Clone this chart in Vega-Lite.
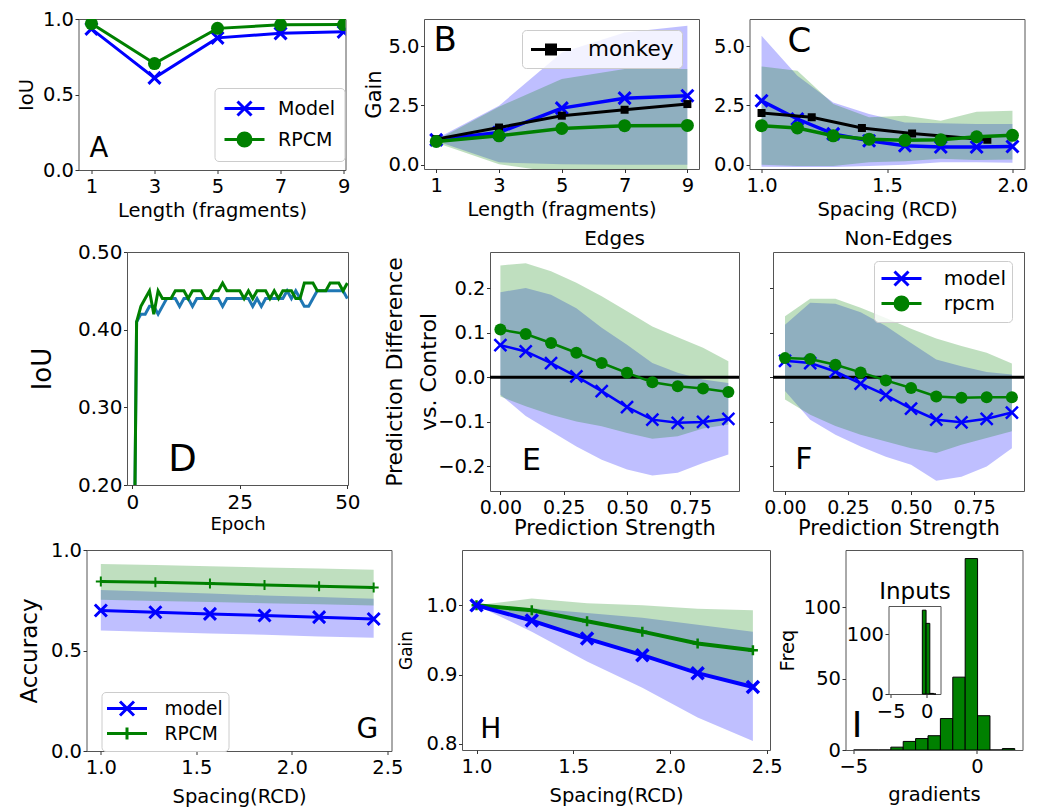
{
"$schema": "https://vega.github.io/schema/vega-lite/v6.json",
"background": "white",
"padding": {"left": 1, "top": 8, "right": 2, "bottom": 2},
"config": {
  "font": "DejaVu Sans",
  "view": {"stroke": "#555555", "strokeWidth": 1},
  "axis": {"grid": false, "domain": false, "ticks": true, "tickColor": "#333333", "tickWidth": 1, "labelFont": "DejaVu Sans", "labelFontSize": 19.5, "labelColor": "#000000", "labelFlush": false, "labelOverlap": false, "labelBound": false, "titleFont": "DejaVu Sans", "titleFontSize": 19.5, "titleFontWeight": "normal", "titleColor": "#000000", "titlePadding": 4},
  "axisX": {"tickSize": 3.5, "labelPadding": 4},
  "axisY": {"tickSize": 3.5, "labelPadding": 1.5},
  "legend": {"labelFont": "DejaVu Sans", "labelFontSize": 19, "labelColor": "#000000", "fillColor": "rgba(255,255,255,0.8)", "strokeColor": "#cccccc", "cornerRadius": 4, "padding": 8, "symbolSize": 400, "symbolStrokeWidth": 3},
  "title": {"font": "DejaVu Sans", "fontSize": 20, "fontWeight": "normal", "color": "#000000", "offset": 3, "anchor": "middle"}
},
"datasets": {
  "a": [{"x":1,"s":"Model","y":0.935},{"x":3,"s":"Model","y":0.61},{"x":5,"s":"Model","y":0.875},{"x":7,"s":"Model","y":0.905},{"x":9,"s":"Model","y":0.915},
        {"x":1,"s":"RPCM","y":0.97},{"x":3,"s":"RPCM","y":0.705},{"x":5,"s":"RPCM","y":0.938},{"x":7,"s":"RPCM","y":0.962},{"x":9,"s":"RPCM","y":0.963}],
  "b": [{"x":1,"s":"Model","y":1.05,"lo":1.0,"hi":1.1},{"x":3,"s":"Model","y":1.36,"lo":0.1,"hi":2.49},{"x":5,"s":"Model","y":2.39,"lo":0.02,"hi":4.74},{"x":7,"s":"Model","y":2.81,"lo":0.0,"hi":5.58},{"x":9,"s":"Model","y":2.91,"lo":0.0,"hi":5.86},
        {"x":1,"s":"RPCM","y":0.98,"lo":0.93,"hi":1.03},{"x":3,"s":"RPCM","y":1.22,"lo":0.02,"hi":2.45},{"x":5,"s":"RPCM","y":1.53,"lo":-0.35,"hi":3.62},{"x":7,"s":"RPCM","y":1.65,"lo":-0.4,"hi":4.04},{"x":9,"s":"RPCM","y":1.66,"lo":-0.4,"hi":4.04},
        {"x":1,"s":"monkey","y":1.08},{"x":3,"s":"monkey","y":1.57},{"x":5,"s":"monkey","y":2.07},{"x":7,"s":"monkey","y":2.32},{"x":9,"s":"monkey","y":2.56}],
  "c": [{"x":1.0,"s":"Model","y":2.7,"lo":-0.08,"hi":5.44},{"x":1.1429,"s":"Model","y":1.93,"lo":-0.1,"hi":3.75},{"x":1.2857,"s":"Model","y":1.3,"lo":-0.1,"hi":2.63},{"x":1.4286,"s":"Model","y":1.01,"lo":-0.05,"hi":2.14},{"x":1.5714,"s":"Model","y":0.8,"lo":0.0,"hi":1.78},{"x":1.7143,"s":"Model","y":0.75,"lo":0.1,"hi":1.75},{"x":1.8571,"s":"Model","y":0.75,"lo":0.1,"hi":1.72},{"x":2.0,"s":"Model","y":0.77,"lo":0.08,"hi":1.72},
        {"x":1.0,"s":"RPCM","y":1.65,"lo":0.0,"hi":4.15},{"x":1.1429,"s":"RPCM","y":1.55,"lo":-0.05,"hi":3.97},{"x":1.2857,"s":"RPCM","y":1.22,"lo":-0.05,"hi":2.56},{"x":1.4286,"s":"RPCM","y":1.08,"lo":0.1,"hi":2.0},{"x":1.5714,"s":"RPCM","y":1.03,"lo":0.15,"hi":2.07},{"x":1.7143,"s":"RPCM","y":1.05,"lo":0.25,"hi":1.86},{"x":1.8571,"s":"RPCM","y":1.18,"lo":0.2,"hi":2.24},{"x":2.0,"s":"RPCM","y":1.24,"lo":0.22,"hi":2.28},
        {"x":1.0,"s":"monkey","y":2.18},{"x":1.2,"s":"monkey","y":2.0},{"x":1.4,"s":"monkey","y":1.55},{"x":1.6,"s":"monkey","y":1.32},{"x":1.9,"s":"monkey","y":1.05}],
  "d": [{"e":0,"s":"m","v":-0.15},{"e":1,"s":"m","v":0.41},{"e":2,"s":"m","v":0.42},{"e":3,"s":"m","v":0.42},{"e":4,"s":"m","v":0.43},{"e":5,"s":"m","v":0.43},{"e":6,"s":"m","v":0.42},{"e":7,"s":"m","v":0.43},{"e":8,"s":"m","v":0.44},{"e":9,"s":"m","v":0.44},
        {"e":10,"s":"m","v":0.44},{"e":11,"s":"m","v":0.43},{"e":12,"s":"m","v":0.44},{"e":13,"s":"m","v":0.44},{"e":14,"s":"m","v":0.43},{"e":15,"s":"m","v":0.44},{"e":16,"s":"m","v":0.44},{"e":17,"s":"m","v":0.44},{"e":18,"s":"m","v":0.44},{"e":19,"s":"m","v":0.44},
        {"e":20,"s":"m","v":0.44},{"e":21,"s":"m","v":0.43},{"e":22,"s":"m","v":0.44},{"e":23,"s":"m","v":0.44},{"e":24,"s":"m","v":0.44},{"e":25,"s":"m","v":0.44},{"e":26,"s":"m","v":0.44},{"e":27,"s":"m","v":0.44},{"e":28,"s":"m","v":0.43},{"e":29,"s":"m","v":0.44},
        {"e":30,"s":"m","v":0.43},{"e":31,"s":"m","v":0.44},{"e":32,"s":"m","v":0.44},{"e":33,"s":"m","v":0.44},{"e":34,"s":"m","v":0.44},{"e":35,"s":"m","v":0.44},{"e":36,"s":"m","v":0.45},{"e":37,"s":"m","v":0.44},{"e":38,"s":"m","v":0.45},{"e":39,"s":"m","v":0.44},
        {"e":40,"s":"m","v":0.43},{"e":41,"s":"m","v":0.43},{"e":42,"s":"m","v":0.44},{"e":43,"s":"m","v":0.45},{"e":44,"s":"m","v":0.45},{"e":45,"s":"m","v":0.45},{"e":46,"s":"m","v":0.45},{"e":47,"s":"m","v":0.45},{"e":48,"s":"m","v":0.45},{"e":49,"s":"m","v":0.45},{"e":50,"s":"m","v":0.44},
        {"e":0,"s":"r","v":-0.15},{"e":1,"s":"r","v":0.41},{"e":2,"s":"r","v":0.43},{"e":3,"s":"r","v":0.44},{"e":4,"s":"r","v":0.45},{"e":5,"s":"r","v":0.42},{"e":6,"s":"r","v":0.45},{"e":7,"s":"r","v":0.44},{"e":8,"s":"r","v":0.44},{"e":9,"s":"r","v":0.44},
        {"e":10,"s":"r","v":0.45},{"e":11,"s":"r","v":0.45},{"e":12,"s":"r","v":0.45},{"e":13,"s":"r","v":0.44},{"e":14,"s":"r","v":0.45},{"e":15,"s":"r","v":0.45},{"e":16,"s":"r","v":0.45},{"e":17,"s":"r","v":0.44},{"e":18,"s":"r","v":0.44},{"e":19,"s":"r","v":0.45},
        {"e":20,"s":"r","v":0.45},{"e":21,"s":"r","v":0.46},{"e":22,"s":"r","v":0.45},{"e":23,"s":"r","v":0.45},{"e":24,"s":"r","v":0.45},{"e":25,"s":"r","v":0.45},{"e":26,"s":"r","v":0.44},{"e":27,"s":"r","v":0.45},{"e":28,"s":"r","v":0.44},{"e":29,"s":"r","v":0.45},
        {"e":30,"s":"r","v":0.45},{"e":31,"s":"r","v":0.45},{"e":32,"s":"r","v":0.44},{"e":33,"s":"r","v":0.45},{"e":34,"s":"r","v":0.44},{"e":35,"s":"r","v":0.45},{"e":36,"s":"r","v":0.45},{"e":37,"s":"r","v":0.45},{"e":38,"s":"r","v":0.44},{"e":39,"s":"r","v":0.44},
        {"e":40,"s":"r","v":0.46},{"e":41,"s":"r","v":0.46},{"e":42,"s":"r","v":0.46},{"e":43,"s":"r","v":0.45},{"e":44,"s":"r","v":0.45},{"e":45,"s":"r","v":0.45},{"e":46,"s":"r","v":0.46},{"e":47,"s":"r","v":0.46},{"e":48,"s":"r","v":0.46},{"e":49,"s":"r","v":0.45},{"e":50,"s":"r","v":0.46}],
  "e": [{"x":0.0,"s":"model","y":0.072,"lo":-0.039,"hi":0.191},{"x":0.1,"s":"model","y":0.058,"lo":-0.087,"hi":0.2},{"x":0.2,"s":"model","y":0.032,"lo":-0.121,"hi":0.185},{"x":0.3,"s":"model","y":0.002,"lo":-0.155,"hi":0.155},{"x":0.4,"s":"model","y":-0.031,"lo":-0.185,"hi":0.111},{"x":0.5,"s":"model","y":-0.067,"lo":-0.207,"hi":0.073},{"x":0.6,"s":"model","y":-0.095,"lo":-0.22,"hi":0.032},{"x":0.7,"s":"model","y":-0.102,"lo":-0.214,"hi":0.01},{"x":0.8,"s":"model","y":-0.1,"lo":-0.192,"hi":-0.005},{"x":0.9,"s":"model","y":-0.093,"lo":-0.173,"hi":-0.013},
        {"x":0.0,"s":"rpcm","y":0.107,"lo":-0.043,"hi":0.251},{"x":0.1,"s":"rpcm","y":0.097,"lo":-0.065,"hi":0.256},{"x":0.2,"s":"rpcm","y":0.077,"lo":-0.084,"hi":0.238},{"x":0.3,"s":"rpcm","y":0.055,"lo":-0.099,"hi":0.212},{"x":0.4,"s":"rpcm","y":0.032,"lo":-0.11,"hi":0.182},{"x":0.5,"s":"rpcm","y":0.01,"lo":-0.125,"hi":0.148},{"x":0.6,"s":"rpcm","y":-0.011,"lo":-0.138,"hi":0.114},{"x":0.7,"s":"rpcm","y":-0.02,"lo":-0.132,"hi":0.09},{"x":0.8,"s":"rpcm","y":-0.025,"lo":-0.115,"hi":0.066},{"x":0.9,"s":"rpcm","y":-0.033,"lo":-0.106,"hi":0.036}],
  "f": [{"x":0.0,"s":"model","y":0.037,"lo":-0.031,"hi":0.118},{"x":0.1,"s":"model","y":0.032,"lo":-0.095,"hi":0.167},{"x":0.2,"s":"model","y":0.013,"lo":-0.129,"hi":0.165},{"x":0.3,"s":"model","y":-0.014,"lo":-0.155,"hi":0.146},{"x":0.4,"s":"model","y":-0.04,"lo":-0.178,"hi":0.115},{"x":0.5,"s":"model","y":-0.07,"lo":-0.196,"hi":0.077},{"x":0.6,"s":"model","y":-0.095,"lo":-0.232,"hi":0.04},{"x":0.7,"s":"model","y":-0.101,"lo":-0.223,"hi":0.025},{"x":0.8,"s":"model","y":-0.093,"lo":-0.2,"hi":0.012},{"x":0.9,"s":"model","y":-0.079,"lo":-0.159,"hi":0.006},
        {"x":0.0,"s":"rpcm","y":0.043,"lo":-0.05,"hi":0.137},{"x":0.1,"s":"rpcm","y":0.041,"lo":-0.084,"hi":0.176},{"x":0.2,"s":"rpcm","y":0.028,"lo":-0.109,"hi":0.176},{"x":0.3,"s":"rpcm","y":0.011,"lo":-0.129,"hi":0.156},{"x":0.4,"s":"rpcm","y":-0.007,"lo":-0.144,"hi":0.133},{"x":0.5,"s":"rpcm","y":-0.024,"lo":-0.159,"hi":0.109},{"x":0.6,"s":"rpcm","y":-0.043,"lo":-0.17,"hi":0.087},{"x":0.7,"s":"rpcm","y":-0.046,"lo":-0.151,"hi":0.07},{"x":0.8,"s":"rpcm","y":-0.045,"lo":-0.136,"hi":0.055},{"x":0.9,"s":"rpcm","y":-0.045,"lo":-0.121,"hi":0.031}],
  "g": [{"x":1.0,"s":"model","y":0.699,"lo":0.6,"hi":0.801},{"x":1.2857,"s":"model","y":0.69,"lo":0.592,"hi":0.792},{"x":1.5714,"s":"model","y":0.682,"lo":0.585,"hi":0.783},{"x":1.8571,"s":"model","y":0.674,"lo":0.578,"hi":0.774},{"x":2.1429,"s":"model","y":0.666,"lo":0.57,"hi":0.766},{"x":2.4286,"s":"model","y":0.657,"lo":0.563,"hi":0.757},
        {"x":1.0,"s":"RPCM","y":0.843,"lo":0.752,"hi":0.93},{"x":1.2857,"s":"RPCM","y":0.839,"lo":0.746,"hi":0.925},{"x":1.5714,"s":"RPCM","y":0.833,"lo":0.741,"hi":0.919},{"x":1.8571,"s":"RPCM","y":0.826,"lo":0.735,"hi":0.913},{"x":2.1429,"s":"RPCM","y":0.82,"lo":0.73,"hi":0.908},{"x":2.4286,"s":"RPCM","y":0.813,"lo":0.724,"hi":0.902}],
  "h": [{"x":1.0,"s":"model","y":1.0,"lo":1.0,"hi":1.0},{"x":1.2857,"s":"model","y":0.978,"lo":0.962,"hi":0.996},{"x":1.5714,"s":"model","y":0.952,"lo":0.919,"hi":0.989},{"x":1.8571,"s":"model","y":0.928,"lo":0.881,"hi":0.982},{"x":2.1429,"s":"model","y":0.902,"lo":0.838,"hi":0.972},{"x":2.4286,"s":"model","y":0.882,"lo":0.804,"hi":0.962},
        {"x":1.0,"s":"RPCM","y":1.0,"lo":1.0,"hi":1.0},{"x":1.2857,"s":"RPCM","y":0.993,"lo":0.975,"hi":1.01},{"x":1.5714,"s":"RPCM","y":0.977,"lo":0.953,"hi":1.003},{"x":1.8571,"s":"RPCM","y":0.962,"lo":0.929,"hi":1.0},{"x":2.1429,"s":"RPCM","y":0.945,"lo":0.905,"hi":0.995},{"x":2.4286,"s":"RPCM","y":0.935,"lo":0.881,"hi":0.993}],
  "i": [{"b0":-4.99,"b1":-4.488,"n":0},{"b0":-4.488,"b1":-3.986,"n":0},{"b0":-3.986,"b1":-3.484,"n":0},{"b0":-3.484,"b1":-2.982,"n":2},{"b0":-2.982,"b1":-2.48,"n":6},{"b0":-2.48,"b1":-1.978,"n":8},{"b0":-1.978,"b1":-1.476,"n":10},{"b0":-1.476,"b1":-0.974,"n":22},{"b0":-0.974,"b1":-0.472,"n":51},{"b0":-0.472,"b1":0.03,"n":134},{"b0":0.03,"b1":0.532,"n":24},{"b0":0.532,"b1":1.034,"n":0},{"b0":1.034,"b1":1.536,"n":1}],
  "ii": [{"b0":-0.6,"b1":-0.08,"n":140},{"b0":-0.08,"b1":0.44,"n":118},{"b0":0.44,"b1":0.96,"n":1},{"b0":0.96,"b1":1.3,"n":0}]
},
"columns": 1, "spacing": 8,
"resolve": {"scale": {"fill": "independent", "stroke": "independent", "shape": "independent"}, "legend": {"fill": "independent", "stroke": "independent", "shape": "independent"}},
"concat": [
 {"hconcat": [
  {"width": 2, "height": 1, "data": {"values": []}, "mark": {"type": "point", "opacity": 0}, "view": {"stroke": null}},
  {"width": 267, "height": 151, "data": {"name": "a"},
   "layer": [
    {"transform": [{"filter": {"field": "s", "equal": "Model"}}],
     "mark": {"type": "line", "color": "#0000ff", "strokeWidth": 3, "clip": true, "point": {"shape": "M-1,-1L1,1M-1,1L1,-1", "filled": false, "size": 144, "strokeWidth": 3, "color": "#0000ff", "opacity": 1}},
     "encoding": {
      "x": {"field": "x", "type": "quantitative", "scale": {"domain": [0.59, 9.06], "nice": false, "zero": false}, "axis": {"title": "Length (fragments)", "values": [1,3,5,7,9], "format": "d", "titlePadding": 5}},
      "y": {"field": "y", "type": "quantitative", "scale": {"domain": [0, 1], "nice": false, "zero": false}, "axis": {"title": "IoU", "values": [0, 0.5, 1], "format": ".1f", "titlePadding": 6}}}},
    {"transform": [{"filter": {"field": "s", "equal": "RPCM"}}],
     "mark": {"type": "line", "color": "#008000", "strokeWidth": 3, "clip": true, "point": {"shape": "circle", "filled": true, "size": 169, "color": "#008000", "opacity": 1}},
     "encoding": {"x": {"field": "x", "type": "quantitative"}, "y": {"field": "y", "type": "quantitative"}}},
    {"data": {"values": []},
     "mark": {"type": "point", "filled": true, "opacity": 1, "strokeWidth": 3, "size": 400},
     "encoding": {
      "fill": {"field": "s", "type": "nominal", "scale": {"domain": ["Model", "RPCM"], "range": ["#0000ff", "#008000"]}, "legend": {"title": null, "orient": "none", "legendX": 136, "legendY": 69, "padding": 9, "symbolOffset": 9.5, "labelOffset": 22, "rowPadding": 5, "labelFontSize": 19}},
      "stroke": {"field": "s", "type": "nominal", "scale": {"domain": ["Model", "RPCM"], "range": ["#0000ff", "#008000"]}, "legend": {"title": null, "orient": "none", "legendX": 136, "legendY": 69, "padding": 9, "symbolOffset": 9.5, "labelOffset": 22, "rowPadding": 5, "labelFontSize": 19}},
      "shape": {"field": "s", "type": "nominal", "scale": {"domain": ["Model", "RPCM"], "range": ["M-2,0L2,0M-0.7,-0.7L0.7,0.7M-0.7,0.7L0.7,-0.7", "M-2,0L2,0M0.65,0A0.65,0.65,0,1,1,-0.65,0A0.65,0.65,0,1,1,0.65,0Z"]}, "legend": {"title": null, "orient": "none", "legendX": 136, "legendY": 69, "padding": 9, "symbolOffset": 9.5, "labelOffset": 22, "rowPadding": 5, "labelFontSize": 19}}}},
    {"data": {"values": [{}]},
     "mark": {"type": "text", "font": "DejaVu Sans", "fontSize": 27.5, "color": "#000000", "align": "center", "baseline": "middle"},
     "encoding": {"x": {"datum": 1.24, "type": "quantitative"}, "y": {"datum": 0.141, "type": "quantitative"}, "text": {"value": "A"}}}
   ]},
  {"width": 275, "height": 150, "data": {"name": "b"},
   "layer": [
    {"transform": [{"filter": {"field": "s", "equal": "Model"}}],
     "mark": {"type": "area", "color": "#0000ff", "opacity": 0.25, "clip": true},
     "encoding": {
      "x": {"field": "x", "type": "quantitative", "scale": {"domain": [0.61, 9.37], "nice": false, "zero": false}, "axis": {"title": "Length (fragments)", "values": [1,3,5,7,9], "format": "d", "titlePadding": 5}},
      "y": {"field": "lo", "type": "quantitative", "scale": {"domain": [-0.18, 6.15], "nice": false, "zero": false}, "axis": {"title": "Gain", "values": [0, 2.5, 5], "format": ".1f", "titleFontSize": 21, "titlePadding": 3}},
      "y2": {"field": "hi"}}},
    {"transform": [{"filter": {"field": "s", "equal": "RPCM"}}],
     "mark": {"type": "area", "color": "#008000", "opacity": 0.25, "clip": true},
     "encoding": {"x": {"field": "x", "type": "quantitative"}, "y": {"field": "lo", "type": "quantitative"}, "y2": {"field": "hi"}}},
    {"transform": [{"filter": {"field": "s", "equal": "Model"}}],
     "mark": {"type": "line", "color": "#0000ff", "strokeWidth": 3.5, "clip": true, "point": {"shape": "M-1,-1L1,1M-1,1L1,-1", "filled": false, "size": 144, "strokeWidth": 3, "color": "#0000ff", "opacity": 1}},
     "encoding": {"x": {"field": "x", "type": "quantitative"}, "y": {"field": "y", "type": "quantitative"}}},
    {"transform": [{"filter": {"field": "s", "equal": "monkey"}}],
     "mark": {"type": "line", "color": "#000000", "strokeWidth": 3, "clip": true, "point": {"shape": "square", "filled": true, "size": 64, "color": "#000000", "opacity": 1}},
     "encoding": {"x": {"field": "x", "type": "quantitative"}, "y": {"field": "y", "type": "quantitative"}}},
    {"transform": [{"filter": {"field": "s", "equal": "RPCM"}}],
     "mark": {"type": "line", "color": "#008000", "strokeWidth": 3.5, "clip": true, "point": {"shape": "circle", "filled": true, "size": 169, "color": "#008000", "opacity": 1}},
     "encoding": {"x": {"field": "x", "type": "quantitative"}, "y": {"field": "y", "type": "quantitative"}}},
    {"data": {"values": []},
     "mark": {"type": "point", "filled": true, "opacity": 1, "strokeWidth": 3, "size": 400},
     "encoding": {
      "fill": {"field": "s", "type": "nominal", "scale": {"domain": ["monkey"], "range": ["#000000"]}, "legend": {"title": null, "orient": "none", "legendX": 98, "legendY": 11, "padding": 8, "symbolOffset": 9.5, "labelOffset": 25.5, "labelFontSize": 21.5}},
      "stroke": {"field": "s", "type": "nominal", "scale": {"domain": ["monkey"], "range": ["#000000"]}, "legend": {"title": null, "orient": "none", "legendX": 98, "legendY": 11, "padding": 8, "symbolOffset": 9.5, "labelOffset": 25.5, "labelFontSize": 21.5}},
      "shape": {"field": "s", "type": "nominal", "scale": {"domain": ["monkey"], "range": ["M-2,0L2,0M-0.45,-0.45L0.45,-0.45L0.45,0.45L-0.45,0.45Z"]}, "legend": {"title": null, "orient": "none", "legendX": 98, "legendY": 11, "padding": 8, "symbolOffset": 9.5, "labelOffset": 25.5, "labelFontSize": 21.5}}}},
    {"data": {"values": [{}]},
     "mark": {"type": "text", "font": "DejaVu Sans", "fontSize": 34, "color": "#000000", "align": "center", "baseline": "middle"},
     "encoding": {"x": {"datum": 1.28, "type": "quantitative"}, "y": {"datum": 5.21, "type": "quantitative"}, "text": {"value": "B"}}}
   ]},
  {"width": 275, "height": 150, "data": {"name": "c"},
   "layer": [
    {"transform": [{"filter": {"field": "s", "equal": "Model"}}],
     "mark": {"type": "area", "color": "#0000ff", "opacity": 0.25, "clip": true},
     "encoding": {
      "x": {"field": "x", "type": "quantitative", "scale": {"domain": [0.952, 2.048], "nice": false, "zero": false}, "axis": {"title": "Spacing (RCD)", "values": [1, 1.5, 2], "format": ".1f", "titlePadding": 5}},
      "y": {"field": "lo", "type": "quantitative", "scale": {"domain": [-0.18, 6.15], "nice": false, "zero": false}, "axis": {"title": null, "values": [0, 2.5, 5], "format": ".1f"}},
      "y2": {"field": "hi"}}},
    {"transform": [{"filter": {"field": "s", "equal": "RPCM"}}],
     "mark": {"type": "area", "color": "#008000", "opacity": 0.25, "clip": true},
     "encoding": {"x": {"field": "x", "type": "quantitative"}, "y": {"field": "lo", "type": "quantitative"}, "y2": {"field": "hi"}}},
    {"transform": [{"filter": {"field": "s", "equal": "Model"}}],
     "mark": {"type": "line", "color": "#0000ff", "strokeWidth": 3.5, "clip": true, "point": {"shape": "M-1,-1L1,1M-1,1L1,-1", "filled": false, "size": 144, "strokeWidth": 3, "color": "#0000ff", "opacity": 1}},
     "encoding": {"x": {"field": "x", "type": "quantitative"}, "y": {"field": "y", "type": "quantitative"}}},
    {"transform": [{"filter": {"field": "s", "equal": "monkey"}}],
     "mark": {"type": "line", "color": "#000000", "strokeWidth": 3, "clip": true, "point": {"shape": "square", "filled": true, "size": 64, "color": "#000000", "opacity": 1}},
     "encoding": {"x": {"field": "x", "type": "quantitative"}, "y": {"field": "y", "type": "quantitative"}}},
    {"transform": [{"filter": {"field": "s", "equal": "RPCM"}}],
     "mark": {"type": "line", "color": "#008000", "strokeWidth": 3.5, "clip": true, "point": {"shape": "circle", "filled": true, "size": 169, "color": "#008000", "opacity": 1}},
     "encoding": {"x": {"field": "x", "type": "quantitative"}, "y": {"field": "y", "type": "quantitative"}}},
    {"data": {"values": [{}]},
     "mark": {"type": "text", "font": "DejaVu Sans", "fontSize": 34, "color": "#000000", "align": "center", "baseline": "middle"},
     "encoding": {"x": {"datum": 1.151, "type": "quantitative"}, "y": {"datum": 5.19, "type": "quantitative"}, "text": {"value": "C"}}}
   ]}
 ], "spacing": 12.5,
 "resolve": {"scale": {"fill": "independent", "stroke": "independent", "shape": "independent"}, "legend": {"fill": "independent", "stroke": "independent", "shape": "independent"}}},
 {"columns": 1, "spacing": 0,
  "resolve": {"scale": {"fill": "independent", "stroke": "independent", "shape": "independent"}, "legend": {"fill": "independent", "stroke": "independent", "shape": "independent"}},
  "concat": [
  {"hconcat": [
   {"width": 5, "height": 1, "data": {"values": []}, "mark": {"type": "point", "opacity": 0}, "view": {"stroke": null}},
   {"width": 221, "height": 233, "data": {"name": "d"},
    "layer": [
     {"transform": [{"filter": {"field": "s", "equal": "m"}}],
      "mark": {"type": "line", "color": "#1f77b4", "strokeWidth": 3, "clip": true},
      "encoding": {
       "x": {"field": "e", "type": "quantitative", "scale": {"domain": [-1.23, 50.15], "nice": false, "zero": false}, "axis": {"title": "Epoch", "values": [0, 25, 50], "format": "d", "labelFontSize": 20, "titleFontSize": 18, "titlePadding": 3}},
       "y": {"field": "v", "type": "quantitative", "scale": {"domain": [0.2, 0.5], "nice": false, "zero": false}, "axis": {"title": "IoU", "values": [0.2, 0.25, 0.3, 0.35, 0.4, 0.45, 0.5], "format": ".2f", "labelFontSize": 20, "titleFontSize": 26, "titlePadding": 22}}}},
     {"transform": [{"filter": {"field": "s", "equal": "r"}}],
      "mark": {"type": "line", "color": "#008000", "strokeWidth": 3, "clip": true},
      "encoding": {"x": {"field": "e", "type": "quantitative"}, "y": {"field": "v", "type": "quantitative"}}},
     {"data": {"values": [{}]},
      "mark": {"type": "text", "font": "DejaVu Sans", "fontSize": 37, "color": "#000000", "align": "center", "baseline": "middle"},
      "encoding": {"x": {"datum": 11.67, "type": "quantitative"}, "y": {"datum": 0.232, "type": "quantitative"}, "text": {"value": "D"}}}
    ]},
   {"width": 249, "height": 239, "title": {"text": "Edges"}, "data": {"name": "e"},
    "layer": [
     {"transform": [{"filter": {"field": "s", "equal": "model"}}],
      "mark": {"type": "area", "color": "#0000ff", "opacity": 0.25, "clip": true},
      "encoding": {
       "x": {"field": "x", "type": "quantitative", "scale": {"domain": [-0.041, 0.942], "nice": false, "zero": false}, "axis": {"title": "Prediction Strength", "values": [0, 0.25, 0.5, 0.75], "format": ".2f", "labelFontSize": 19, "titleFontSize": 21, "titlePadding": 0}},
       "y": {"field": "lo", "type": "quantitative", "scale": {"domain": [-0.255, 0.281], "nice": false, "zero": false}, "axis": {"title": ["Prediction Difference", "vs. Control"], "values": [-0.2, -0.1, 0, 0.1, 0.2], "format": ".1f", "titleFontSize": 22, "titleLineHeight": 34, "titlePadding": -3}},
       "y2": {"field": "hi"}}},
     {"transform": [{"filter": {"field": "s", "equal": "rpcm"}}],
      "mark": {"type": "area", "color": "#008000", "opacity": 0.25, "clip": true},
      "encoding": {"x": {"field": "x", "type": "quantitative"}, "y": {"field": "lo", "type": "quantitative"}, "y2": {"field": "hi"}}},
     {"data": {"values": [{}]},
      "mark": {"type": "rule", "color": "#000000", "strokeWidth": 3},
      "encoding": {"y": {"datum": 0, "type": "quantitative"}}},
     {"transform": [{"filter": {"field": "s", "equal": "model"}}],
      "mark": {"type": "line", "color": "#0000ff", "strokeWidth": 2.5, "clip": true, "point": {"shape": "M-1,-1L1,1M-1,1L1,-1", "filled": false, "size": 144, "strokeWidth": 2.5, "color": "#0000ff", "opacity": 1}},
      "encoding": {"x": {"field": "x", "type": "quantitative"}, "y": {"field": "y", "type": "quantitative"}}},
     {"transform": [{"filter": {"field": "s", "equal": "rpcm"}}],
      "mark": {"type": "line", "color": "#008000", "strokeWidth": 2.5, "clip": true, "point": {"shape": "circle", "filled": true, "size": 144, "color": "#008000", "opacity": 1}},
      "encoding": {"x": {"field": "x", "type": "quantitative"}, "y": {"field": "y", "type": "quantitative"}}},
     {"data": {"values": [{}]},
      "mark": {"type": "text", "font": "DejaVu Sans", "fontSize": 30, "color": "#000000", "align": "center", "baseline": "middle"},
      "encoding": {"x": {"datum": 0.123, "type": "quantitative"}, "y": {"datum": -0.187, "type": "quantitative"}, "text": {"value": "E"}}}
    ]},
   {"width": 251, "height": 239, "title": {"text": "Non-Edges"}, "data": {"name": "f"},
    "layer": [
     {"transform": [{"filter": {"field": "s", "equal": "model"}}],
      "mark": {"type": "area", "color": "#0000ff", "opacity": 0.25, "clip": true},
      "encoding": {
       "x": {"field": "x", "type": "quantitative", "scale": {"domain": [-0.0476, 0.948], "nice": false, "zero": false}, "axis": {"title": "Prediction Strength", "values": [0, 0.25, 0.5, 0.75], "format": ".2f", "labelFontSize": 19, "titleFontSize": 21, "titlePadding": 0}},
       "y": {"field": "lo", "type": "quantitative", "scale": {"domain": [-0.255, 0.281], "nice": false, "zero": false}, "axis": {"title": null, "labels": false, "values": [-0.2, -0.1, 0, 0.1, 0.2]}},
       "y2": {"field": "hi"}}},
     {"transform": [{"filter": {"field": "s", "equal": "rpcm"}}],
      "mark": {"type": "area", "color": "#008000", "opacity": 0.25, "clip": true},
      "encoding": {"x": {"field": "x", "type": "quantitative"}, "y": {"field": "lo", "type": "quantitative"}, "y2": {"field": "hi"}}},
     {"data": {"values": [{}]},
      "mark": {"type": "rule", "color": "#000000", "strokeWidth": 3},
      "encoding": {"y": {"datum": 0, "type": "quantitative"}}},
     {"transform": [{"filter": {"field": "s", "equal": "model"}}],
      "mark": {"type": "line", "color": "#0000ff", "strokeWidth": 2.5, "clip": true, "point": {"shape": "M-1,-1L1,1M-1,1L1,-1", "filled": false, "size": 144, "strokeWidth": 2.5, "color": "#0000ff", "opacity": 1}},
      "encoding": {"x": {"field": "x", "type": "quantitative"}, "y": {"field": "y", "type": "quantitative"}}},
     {"transform": [{"filter": {"field": "s", "equal": "rpcm"}}],
      "mark": {"type": "line", "color": "#008000", "strokeWidth": 2.5, "clip": true, "point": {"shape": "circle", "filled": true, "size": 144, "color": "#008000", "opacity": 1}},
      "encoding": {"x": {"field": "x", "type": "quantitative"}, "y": {"field": "y", "type": "quantitative"}}},
     {"data": {"values": []},
      "mark": {"type": "point", "filled": true, "opacity": 1, "strokeWidth": 3, "size": 400},
      "encoding": {
       "fill": {"field": "s", "type": "nominal", "scale": {"domain": ["model", "rpcm"], "range": ["#0000ff", "#008000"]}, "legend": {"title": null, "orient": "none", "legendX": 101, "legendY": 9, "padding": 6, "symbolOffset": 10, "labelOffset": 30.7, "rowPadding": -6, "labelFontSize": 20}},
       "stroke": {"field": "s", "type": "nominal", "scale": {"domain": ["model", "rpcm"], "range": ["#0000ff", "#008000"]}, "legend": {"title": null, "orient": "none", "legendX": 101, "legendY": 9, "padding": 6, "symbolOffset": 10, "labelOffset": 30.7, "rowPadding": -6, "labelFontSize": 20}},
       "shape": {"field": "s", "type": "nominal", "scale": {"domain": ["model", "rpcm"], "range": ["M-2,0L2,0M-0.7,-0.7L0.7,0.7M-0.7,0.7L0.7,-0.7", "M-2,0L2,0M0.65,0A0.65,0.65,0,1,1,-0.65,0A0.65,0.65,0,1,1,0.65,0Z"]}, "legend": {"title": null, "orient": "none", "legendX": 101, "legendY": 9, "padding": 6, "symbolOffset": 10, "labelOffset": 30.7, "rowPadding": -6, "labelFontSize": 20}}}},
     {"data": {"values": [{}]},
      "mark": {"type": "text", "font": "DejaVu Sans", "fontSize": 30, "color": "#000000", "align": "center", "baseline": "middle"},
      "encoding": {"x": {"datum": 0.075, "type": "quantitative"}, "y": {"datum": -0.185, "type": "quantitative"}, "text": {"value": "F"}}}
    ]}
  ], "spacing": 22,
  "resolve": {"scale": {"fill": "independent", "stroke": "independent", "shape": "independent"}, "legend": {"fill": "independent", "stroke": "independent", "shape": "independent"}}},
  {"hconcat": [
   {"width": 23, "height": 1, "data": {"values": []}, "mark": {"type": "point", "opacity": 0}, "view": {"stroke": null}},
   {"width": 305, "height": 201, "data": {"name": "g"},
    "layer": [
     {"transform": [{"filter": {"field": "s", "equal": "model"}}],
      "mark": {"type": "area", "color": "#0000ff", "opacity": 0.25, "clip": true},
      "encoding": {
       "x": {"field": "x", "type": "quantitative", "scale": {"domain": [0.925, 2.522], "nice": false, "zero": false}, "axis": {"title": "Spacing(RCD)", "values": [1, 1.5, 2, 2.5], "format": ".1f", "titlePadding": 10}},
       "y": {"field": "lo", "type": "quantitative", "scale": {"domain": [0, 1], "nice": false, "zero": false}, "axis": {"title": "Accuracy", "values": [0, 0.5, 1], "format": ".1f", "titleFontSize": 23, "titlePadding": 9}},
       "y2": {"field": "hi"}}},
     {"transform": [{"filter": {"field": "s", "equal": "RPCM"}}],
      "mark": {"type": "area", "color": "#008000", "opacity": 0.25, "clip": true},
      "encoding": {"x": {"field": "x", "type": "quantitative"}, "y": {"field": "lo", "type": "quantitative"}, "y2": {"field": "hi"}}},
     {"transform": [{"filter": {"field": "s", "equal": "model"}}],
      "mark": {"type": "line", "color": "#0000ff", "strokeWidth": 3, "clip": true, "point": {"shape": "M-1,-1L1,1M-1,1L1,-1", "filled": false, "size": 144, "strokeWidth": 3, "color": "#0000ff", "opacity": 1}},
      "encoding": {"x": {"field": "x", "type": "quantitative"}, "y": {"field": "y", "type": "quantitative"}}},
     {"transform": [{"filter": {"field": "s", "equal": "RPCM"}}],
      "mark": {"type": "line", "color": "#008000", "strokeWidth": 3, "clip": true, "point": {"shape": "M-1,0L1,0M0,-1L0,1", "filled": false, "size": 100, "strokeWidth": 2, "color": "#008000", "opacity": 1}},
      "encoding": {"x": {"field": "x", "type": "quantitative"}, "y": {"field": "y", "type": "quantitative"}}},
     {"data": {"values": []},
      "mark": {"type": "point", "filled": true, "opacity": 1, "strokeWidth": 3, "size": 400},
      "encoding": {
       "fill": {"field": "s", "type": "nominal", "scale": {"domain": ["model", "RPCM"], "range": ["#0000ff", "#008000"]}, "legend": {"title": null, "orient": "none", "legendX": 15, "legendY": 142, "padding": 5, "symbolOffset": 9, "labelOffset": 26, "rowPadding": -8, "labelFontSize": 18.7}},
       "stroke": {"field": "s", "type": "nominal", "scale": {"domain": ["model", "RPCM"], "range": ["#0000ff", "#008000"]}, "legend": {"title": null, "orient": "none", "legendX": 15, "legendY": 142, "padding": 5, "symbolOffset": 9, "labelOffset": 26, "rowPadding": -8, "labelFontSize": 18.7}},
       "shape": {"field": "s", "type": "nominal", "scale": {"domain": ["model", "RPCM"], "range": ["M-2,0L2,0M-0.7,-0.7L0.7,0.7M-0.7,0.7L0.7,-0.7", "M-2,0L2,0M0,-0.6L0,0.6"]}, "legend": {"title": null, "orient": "none", "legendX": 15, "legendY": 142, "padding": 5, "symbolOffset": 9, "labelOffset": 26, "rowPadding": -8, "labelFontSize": 18.7}}}},
     {"data": {"values": [{}]},
      "mark": {"type": "text", "font": "DejaVu Sans", "fontSize": 28, "color": "#000000", "align": "center", "baseline": "middle"},
      "encoding": {"x": {"datum": 2.396, "type": "quantitative"}, "y": {"datum": 0.102, "type": "quantitative"}, "text": {"value": "G"}}}
    ]},
   {"width": 308, "height": 200, "data": {"name": "h"},
    "layer": [
     {"transform": [{"filter": {"field": "s", "equal": "model"}}],
      "mark": {"type": "area", "color": "#0000ff", "opacity": 0.25, "clip": true},
      "encoding": {
       "x": {"field": "x", "type": "quantitative", "scale": {"domain": [0.925, 2.517], "nice": false, "zero": false}, "axis": {"title": "Spacing(RCD)", "values": [1, 1.5, 2, 2.5], "format": ".1f", "titlePadding": 10}},
       "y": {"field": "lo", "type": "quantitative", "scale": {"domain": [0.791, 1.08], "nice": false, "zero": false}, "axis": {"title": "Gain", "values": [0.8, 0.9, 1.0], "format": ".1f", "titleFontSize": 17, "titlePadding": 10}},
       "y2": {"field": "hi"}}},
     {"transform": [{"filter": {"field": "s", "equal": "RPCM"}}],
      "mark": {"type": "area", "color": "#008000", "opacity": 0.25, "clip": true},
      "encoding": {"x": {"field": "x", "type": "quantitative"}, "y": {"field": "lo", "type": "quantitative"}, "y2": {"field": "hi"}}},
     {"transform": [{"filter": {"field": "s", "equal": "RPCM"}}],
      "mark": {"type": "line", "color": "#008000", "strokeWidth": 4, "clip": true, "point": {"shape": "M-1,0L1,0M0,-1L0,1", "filled": false, "size": 100, "strokeWidth": 2.5, "color": "#008000", "opacity": 1}},
      "encoding": {"x": {"field": "x", "type": "quantitative"}, "y": {"field": "y", "type": "quantitative"}}},
     {"transform": [{"filter": {"field": "s", "equal": "model"}}],
      "mark": {"type": "line", "color": "#0000ff", "strokeWidth": 4, "clip": true, "point": {"shape": "M-1,-1L1,1M-1,1L1,-1", "filled": false, "size": 144, "strokeWidth": 3.5, "color": "#0000ff", "opacity": 1}},
      "encoding": {"x": {"field": "x", "type": "quantitative"}, "y": {"field": "y", "type": "quantitative"}}},
     {"data": {"values": [{}]},
      "mark": {"type": "text", "font": "DejaVu Sans", "fontSize": 28, "color": "#000000", "align": "center", "baseline": "middle"},
      "encoding": {"x": {"datum": 1.074, "type": "quantitative"}, "y": {"datum": 0.8206, "type": "quantitative"}, "text": {"value": "H"}}}
    ]},
   {"width": 177, "height": 200,
    "layer": [
     {"layer": [
      {"data": {"name": "i"},
       "mark": {"type": "bar", "color": "#008000", "stroke": "#000000", "strokeWidth": 1, "opacity": 1, "clip": true},
       "encoding": {
        "x": {"field": "b0", "type": "quantitative", "scale": {"domain": [-5.32, 1.85], "nice": false, "zero": false}, "axis": {"title": "gradients", "values": [-5, 0], "format": "d", "titlePadding": 9}},
        "x2": {"field": "b1"},
        "y": {"field": "n", "type": "quantitative", "scale": {"domain": [0, 140], "nice": false, "zero": false}, "axis": {"title": "Freq", "values": [0, 50, 100], "format": "d", "titlePadding": 6}},
        "y2": {"datum": 0}}},
      {"data": {"values": [{}]},
       "mark": {"type": "text", "font": "DejaVu Sans", "fontSize": 36, "color": "#000000", "align": "center", "baseline": "middle"},
       "encoding": {"x": {"datum": -4.85, "type": "quantitative"}, "y": {"datum": 17, "type": "quantitative"}, "text": {"value": "I"}}}
     ]},
     {"data": {"name": "ii"},
      "mark": {"type": "bar", "color": "#008000", "stroke": "#000000", "strokeWidth": 1, "opacity": 1},
      "encoding": {
       "x": {"field": "b0", "type": "quantitative", "scale": {"domain": [-5.31, 1.93], "range": [43, 95], "nice": false, "zero": false}, "axis": {"orient": "bottom", "offset": -56, "values": [-5, 0], "format": "d", "title": null, "domain": true, "domainColor": "#555555", "labelPadding": 5}},
       "x2": {"field": "b1"},
       "y": {"field": "n", "type": "quantitative", "scale": {"domain": [0, 147], "range": [144, 56], "nice": false, "zero": false}, "axis": {"orient": "left", "offset": -43, "values": [0, 100], "format": "d", "title": null, "domain": true, "domainColor": "#555555"}},
       "y2": {"datum": 0}}},
     {"data": {"name": "ii"},
      "mark": {"type": "tick", "opacity": 0},
      "encoding": {
       "x": {"field": "b0", "type": "quantitative", "scale": {"domain": [-5.31, 1.93], "range": [43, 95], "nice": false, "zero": false}, "axis": {"orient": "top", "offset": -56, "ticks": false, "labels": false, "domain": true, "domainColor": "#555555", "title": "Inputs", "titleFontSize": 23, "titlePadding": 3}}}},
     {"data": {"name": "ii"},
      "mark": {"type": "tick", "opacity": 0},
      "encoding": {
       "y": {"field": "n", "type": "quantitative", "scale": {"domain": [0, 147], "range": [144, 56], "nice": false, "zero": false}, "axis": {"orient": "right", "offset": -82, "ticks": false, "labels": false, "domain": true, "domainColor": "#555555", "title": null}}}}
    ],
    "resolve": {"scale": {"x": "independent", "y": "independent"}, "axis": {"x": "independent", "y": "independent"}}}
  ], "spacing": -6.5,
  "resolve": {"scale": {"fill": "independent", "stroke": "independent", "shape": "independent"}, "legend": {"fill": "independent", "stroke": "independent", "shape": "independent"}}}
 ]}
]
}
